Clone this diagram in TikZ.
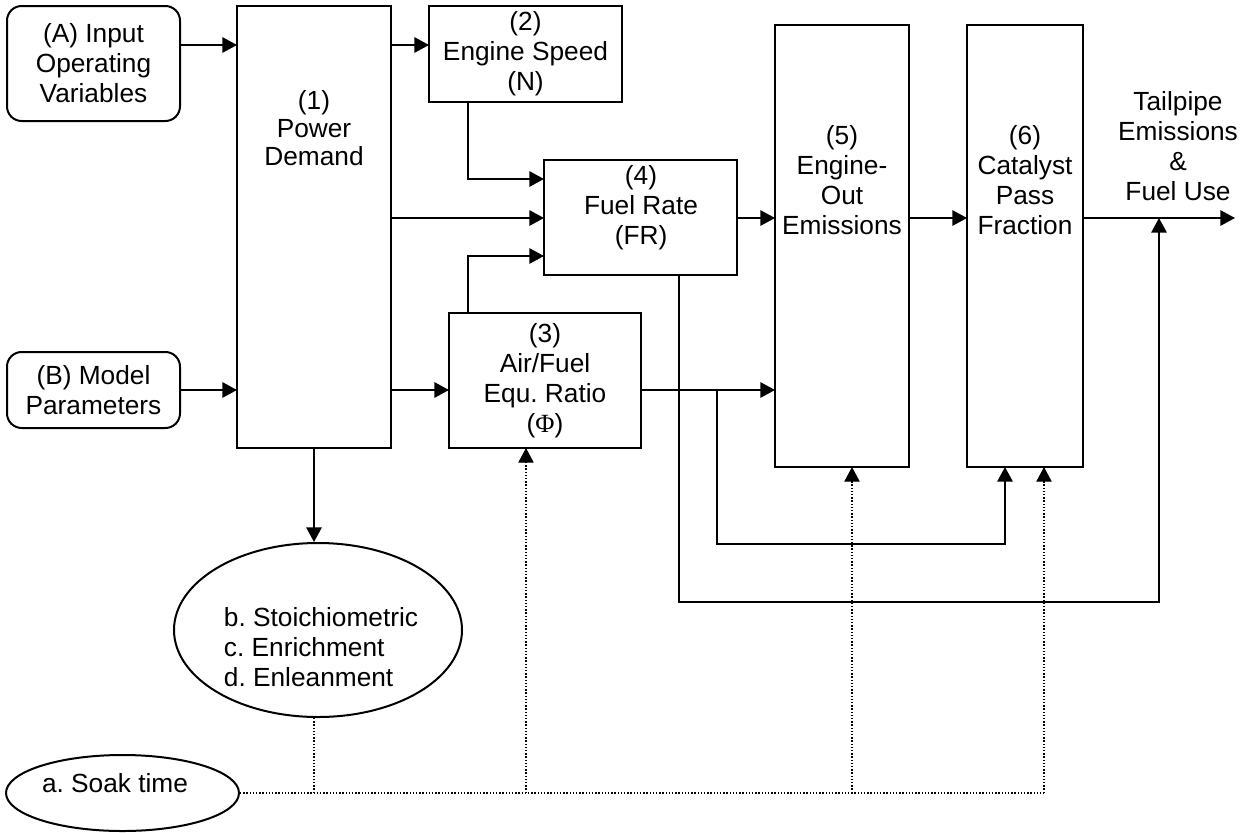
\documentclass[tikz,border=0pt]{standalone}
\usepackage{fontspec}
\setmainfont{Liberation Sans}
\newfontfamily\serifphi{Liberation Serif}
\usetikzlibrary{arrows.meta,shapes.geometric}
\frenchspacing
\tikzset{
  box/.style={draw, line width=1.5pt, inner sep=0pt, outer sep=0pt},
  rbox/.style={box, rounded corners=11pt},
  txt/.style={align=center, font=\fontsize{19.7}{22.5}\selectfont, inner sep=0pt},
  ltxt/.style={align=left, font=\fontsize{19.7}{22.5}\selectfont, inner sep=0pt},
  conn/.style={line width=1.5pt, -{Triangle[length=11pt,width=11.5pt]}},
  dot/.style={line width=0.9pt, dash pattern=on 1pt off 1.4pt},
  darr/.style={dot, -{Triangle[length=11pt,width=11.5pt]}},
  oval/.style={draw, line width=1.5pt, ellipse, inner sep=0pt},
}
\begin{document}
\begin{tikzpicture}[x=0.75pt,y=-0.75pt]
\fill[white] (0,0) rectangle (1252,832);
\useasboundingbox (0,0) rectangle (1252,832);

% boxes
\node[rbox, minimum width={173*0.75pt}, minimum height={115*0.75pt}, txt] (nA) at (93.5,63.5) {(A) Input\\Operating\\Variables};
\node[rbox, minimum width={173*0.75pt}, minimum height={76*0.75pt}, txt] (nB) at (93.5,390) {(B) Model\\Parameters};
\node[box, minimum width={154*0.75pt}, minimum height={442*0.75pt}] (n1) at (314,227) {};
\node[txt, font=\fontsize{19.7}{20.8}\selectfont] (t1) at (314,128) {(1)\\Power\\Demand};
\node[box, minimum width={193*0.75pt}, minimum height={96*0.75pt}, txt] (n2) at (525.5,54) {(2)\\Engine Speed\\(N)};
\node[box, minimum width={193*0.75pt}, minimum height={115*0.75pt}] (n4) at (640.5,217.5) {};
\node[txt] (t4) at (641,208) {(4)\\Fuel Rate\\(FR)};
\node[box, minimum width={192*0.75pt}, minimum height={135*0.75pt}, txt] (n3) at (545,380.5) {(3)\\Air/Fuel\\Equ. Ratio\\({\serifphi Φ})};
\node[box, minimum width={134*0.75pt}, minimum height={442*0.75pt}] (n5) at (842,246) {};
\node[txt] (t5) at (842,180) {(5)\\Engine-\\Out\\Emissions};
\node[box, minimum width={116*0.75pt}, minimum height={442*0.75pt}] (n6) at (1025,246) {};
\node[txt] (t6) at (1025,180) {(6)\\Catalyst\\Pass\\Fraction};
\node[txt] (tout) at (1178,146) {Tailpipe\\Emissions\\\&\\Fuel Use};
\node[oval, minimum width={288*0.75pt}, minimum height={174*0.75pt}] (nb) at (318,630) {};
\node[ltxt] (tb) at (321,647) {b. Stoichiometric\\c. Enrichment\\d. Enleanment};
\node[oval, minimum width={233*0.75pt}, minimum height={76*0.75pt}] (na) at (122.5,793) {};
\node[txt] (ta) at (115,783) {a. Soak time};

% helper coordinates
\coordinate (y45) at (0,45);
\coordinate (y179) at (0,179);
\coordinate (y218) at (0,218);
\coordinate (y256) at (0,256);
\coordinate (y390) at (0,390);
\coordinate (y544) at (0,544);
\coordinate (y602) at (0,602);
\coordinate (x468) at (468,0);
\coordinate (x679) at (679,0);
\coordinate (x717) at (717,0);
\coordinate (x1005) at (1005,0);
\coordinate (x1159) at (1159,0);
\coordinate (out) at (1235,218);
\coordinate (s3) at (526,793);
\coordinate (s5) at (852,793);
\coordinate (s6) at (1044,793);

% connectors
\draw[conn] (nA.east |- y45) -- (n1.west |- y45);
\draw[conn] (nB.east |- y390) -- (n1.west |- y390);
\draw[conn] (n1.east |- y45) -- (n2.west |- y45);
\draw[conn] (n1.east |- y218) -- (n4.west |- y218);
\draw[conn] (n1.east |- y390) -- (n3.west |- y390);
\draw[conn] (n1.south) -- (n1.south |- nb.north);
\draw[conn] (x468 |- n2.south) |- (n4.west |- y179);
\draw[conn] (x468 |- n3.north) |- (n4.west |- y256);
\draw[conn] (n4.east |- y218) -- (n5.west |- y218);
\draw[conn] (n5.east |- y218) -- (n6.west |- y218);
\draw[conn] (n6.east |- y218) -- (out);
\draw[conn] (n3.east |- y390) -- (n5.west |- y390);
\draw[conn] (x717 |- y390) -- (x717 |- y544) -- (x1005 |- y544) -- (x1005 |- n6.south);
\draw[conn] (x679 |- n4.south) -- (x679 |- y602) -- (x1159 |- y602) -- (x1159 |- y218);

% dotted
\draw[dot] (na.east) -- (s6);
\draw[dot] (n1.south |- nb.south) -- (n1.south |- s6);
\draw[darr] (s3) -- (s3 |- n3.south);
\draw[darr] (s5) -- (s5 |- n5.south);
\draw[darr] (s6) -- (s6 |- n6.south);
\end{tikzpicture}
\end{document}
